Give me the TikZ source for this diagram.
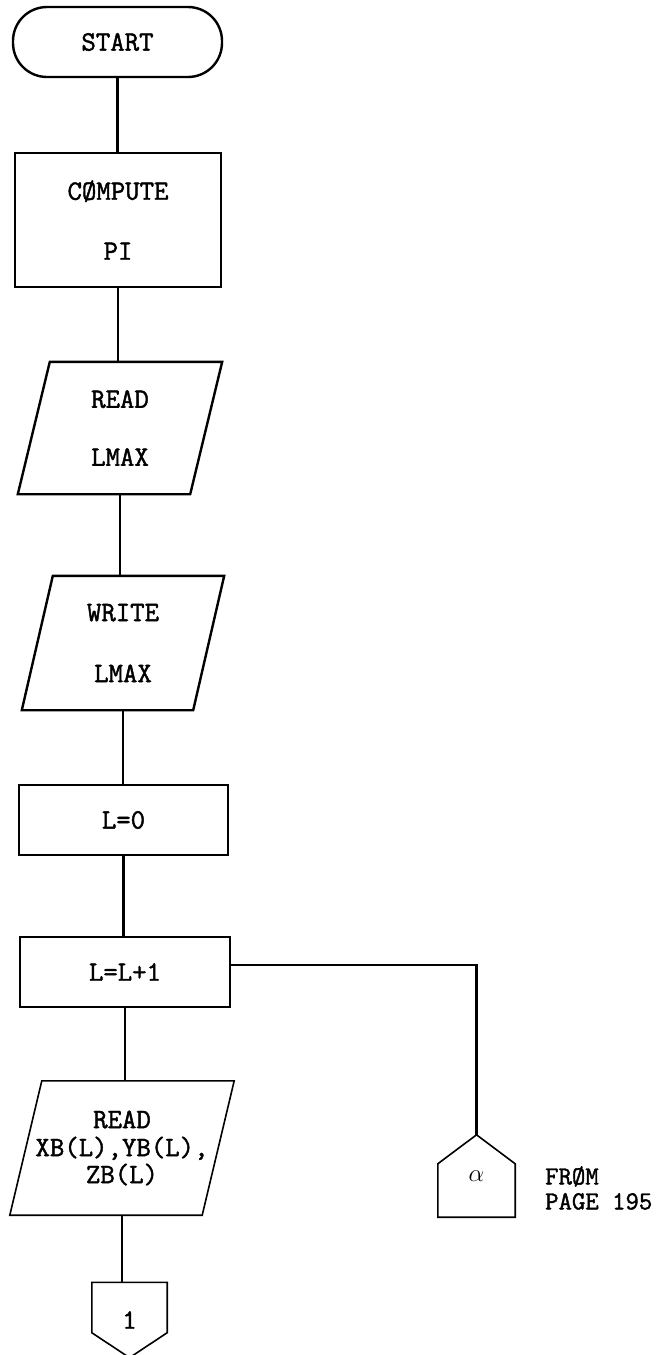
\documentclass[tikz,border=0pt]{standalone}
\usepackage{fontspec}
\newfontfamily\typew{Latin Modern Mono}[FakeBold=1.6]
\usetikzlibrary{calc}
\begin{document}
\begin{tikzpicture}[x=1pt,y=-1pt,
  every node/.style={font=\typew\fontsize{28}{30}\selectfont, inner sep=0pt, align=center},
  ln/.style={line width=2.4pt, line join=miter},
  thin ln/.style={line width=1.6pt, line join=miter},
  boxed/.style={draw, ln}
]
\useasboundingbox (0,0) rectangle (666,1355);

% nodes
\node[boxed, rounded corners=34pt, minimum width=209pt, minimum height=70pt] (start) at (117.5,42) {START};
\node[boxed, minimum width=206pt, minimum height=134pt] (comp) at (118,220) {CØMPUTE\\[30pt]PI};
\node[minimum width=172pt, minimum height=132pt] (read1) at (120,428) {READ\\[28pt]LMAX};
\node[minimum width=171pt, minimum height=134pt] (write1) at (123,643) {WRITE\\[31pt]LMAX};
\node[boxed, minimum width=209pt, minimum height=70pt] (l0) at (123.5,820) {L=0};
\node[boxed, minimum width=210pt, minimum height=70pt] (inc) at (125,972) {L=L+1};
\node[minimum width=192pt, minimum height=134pt] (read2) at (122,1148) {READ\\[-2pt]XB(L),YB(L),\\[-3pt]ZB(L)};
\node[minimum width=75pt, minimum height=75pt] (one) at (129.5,1320) {1};
\node[minimum width=77pt, minimum height=82pt, font=\fontsize{24}{24}\selectfont] (alpha) at (476.5,1176) {$\alpha$};
\node[anchor=west, align=left, font=\typew\fontsize{26}{25}\selectfont] (from) at (545,1188) {FRØM\\PAGE 195};

% parallelogram outlines
\draw[ln] ([xshift=16pt]read1.north west) -- ([xshift=16pt]read1.north east)
  -- ([xshift=-16pt]read1.south east) -- ([xshift=-16pt]read1.south west) -- cycle;
\draw[ln] ([xshift=15.5pt]write1.north west) -- ([xshift=15.5pt]write1.north east)
  -- ([xshift=-15.5pt]write1.south east) -- ([xshift=-15.5pt]write1.south west) -- cycle;
\draw[thin ln] ([xshift=16pt]read2.north west) -- ([xshift=16pt]read2.north east)
  -- ([xshift=-16pt]read2.south east) -- ([xshift=-16pt]read2.south west) -- cycle;

% off-page connectors
\draw[thin ln] (one.north west) -- (one.north east) -- ([yshift=25pt]one.south east)
  -- (one.south) -- ([yshift=25pt]one.south west) -- cycle;
\draw[thin ln] (alpha.north) -- ([yshift=-29pt]alpha.north east) -- (alpha.south east)
  -- (alpha.south west) -- ([yshift=-29pt]alpha.north west) -- cycle;

% connectors
\draw[ln] (start.south) -- (start.south |- comp.north);
\draw[ln] (comp.south) -- (comp.south |- read1.north);
\draw[ln] (read1.south) -- (read1.south |- write1.north);
\draw[ln] (write1.south) -- (write1.south |- l0.north);
\draw[ln] (l0.south) -- (l0.south |- inc.north);
\draw[ln] (inc.south) -- (inc.south |- read2.north);
\draw[thin ln] (read2.south) -- (read2.south |- one.north);
\draw[ln] ([yshift=7pt]inc.east) -| (alpha.north);
\end{tikzpicture}
\end{document}
